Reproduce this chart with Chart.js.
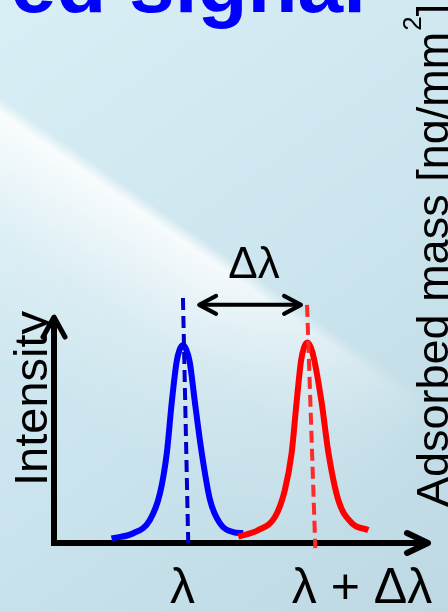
<!DOCTYPE html>
<html><head><meta charset="utf-8">
<script src="https://cdn.jsdelivr.net/npm/chart.js@4/dist/chart.umd.min.js"></script>
<style>html,body{margin:0;padding:0;overflow:hidden;background:#cfe6ee}canvas{display:block}</style>
</head><body>
<canvas id="c" width="448" height="612" style="width:448px;height:612px"></canvas>
<script>
// ---- data (wavelength in arbitrary units 0..100, intensity 0..100) ----
const blueX = [15.3, 21.1, 25.5, 28.2, 30.0, 31.3, 32.6, 33.4, 34.3, 35.2, 36.1, 37.5, 39.3, 41.5, 44.1, 47.6, 50.3];
const blueY = [1.9, 4.0, 9.5, 20.6, 37.0, 57.6, 74.5, 79.5, 81.5, 79.5, 74.5, 57.6, 37.0, 17.7, 8.2, 4.5, 4.1];
const redX = [49.0, 54.3, 58.8, 61.4, 63.2, 64.5, 65.7, 66.5, 67.4, 68.3, 69.2, 71.2, 73.0, 75.6, 79.2, 83.6];
const redY = [2.6, 5.3, 10.8, 21.8, 37.0, 57.6, 75.0, 80.5, 82.5, 80.5, 75.5, 57.6, 37.0, 17.7, 8.2, 5.3];
const blueMarkerX = [34.3, 35.7];
const blueMarkerY = [100.8, 0];
const redMarkerX = [67.3, 69.5];
const redMarkerY = [98.0, -2.1];
const shiftArrowX = [38.6, 65.7];
const shiftArrowY = [98.0, 98.0];
const shiftLabelPos = [53.2, 109];
const shiftLabel = 'Δλ';
const tickPositions = [34.2, 81.9];
const tickLabels = ['λ', 'λ + Δλ'];
const xAxisRange = [0, 100];
const yAxisRange = [0, 93.8];
const yTitle = 'Intensity';
const rightTitle = ['Adsorbed mass [ng/mm', '2', ']'];
const pageTitle = 'ed signal';

const pts = (xs, ys) => xs.map((x, i) => ({x, y: ys[i]}));

const bgPlugin = {
  id: 'bg',
  beforeDraw(chart) {
    const ctx = chart.ctx, W = chart.width, H = chart.height;
    ctx.save();
    let g = ctx.createLinearGradient(0, 0, W, H);
    g.addColorStop(0, '#d9eff6');
    g.addColorStop(0.5, '#cce5ee');
    g.addColorStop(1, '#bed9e4');
    ctx.fillStyle = g;
    ctx.fillRect(0, 0, W, H);
    // diagonal bright streak (offscreen, faded along its length)
    const off = document.createElement('canvas');
    off.width = W; off.height = H;
    const o = off.getContext('2d');
    const P0 = [200, 249], n = [-0.574, 0.819];
    const s = [P0[0] - n[0]*10, P0[1] - n[1]*10];
    const e = [P0[0] + n[0]*210, P0[1] + n[1]*210];
    g = o.createLinearGradient(s[0], s[1], e[0], e[1]);
    g.addColorStop(0, 'rgba(255,255,255,0)');
    g.addColorStop(0.06, 'rgba(255,255,255,0.85)');
    g.addColorStop(0.22, 'rgba(255,255,255,0.62)');
    g.addColorStop(0.5, 'rgba(255,255,255,0.25)');
    g.addColorStop(1, 'rgba(255,255,255,0)');
    o.fillStyle = g;
    o.fillRect(0, 0, W, H);
    o.globalCompositeOperation = 'destination-in';
    const m = o.createLinearGradient(0, 120, 430, 420);
    m.addColorStop(0, 'rgba(0,0,0,1)');
    m.addColorStop(0.5, 'rgba(0,0,0,0.95)');
    m.addColorStop(0.78, 'rgba(0,0,0,0.45)');
    m.addColorStop(1, 'rgba(0,0,0,0)');
    o.fillStyle = m;
    o.fillRect(0, 0, W, H);
    ctx.drawImage(off, 0, 0);
    ctx.restore();
  }
};

function chevron(ctx, tx, ty, dx, dy, back, half) {
  const px = -dy, py = dx;
  ctx.beginPath();
  ctx.moveTo(tx - dx*back + px*half, ty - dy*back + py*half);
  ctx.lineTo(tx, ty);
  ctx.lineTo(tx - dx*back - px*half, ty - dy*back - py*half);
  ctx.stroke();
}

const axesPlugin = {
  id: 'axes',
  beforeDatasetsDraw(chart) {
    const ctx = chart.ctx, xs = chart.scales.x, ys = chart.scales.y;
    ctx.save();
    ctx.strokeStyle = '#000';
    ctx.lineJoin = 'round';
    ctx.lineCap = 'butt';
    const x0 = xs.getPixelForValue(xAxisRange[0]);
    const x1 = xs.getPixelForValue(xAxisRange[1]);
    const y0 = ys.getPixelForValue(yAxisRange[0]);
    const y1 = ys.getPixelForValue(yAxisRange[1]);
    ctx.lineWidth = 6;
    ctx.beginPath(); ctx.moveTo(x0 - 3, y0); ctx.lineTo(x1 - 2, y0); ctx.stroke();
    ctx.beginPath(); ctx.moveTo(x0, y0 + 3); ctx.lineTo(x0, y1 + 2); ctx.stroke();
    ctx.lineCap = 'round';
    chevron(ctx, x1 - 2, y0, 1, 0, 21, 10);
    ctx.lineWidth = 5;
    chevron(ctx, x0, y1 + 2, 0, -1, 20, 11);
    ctx.restore();
  },
  afterDatasetsDraw(chart) {
    const ctx = chart.ctx, xs = chart.scales.x, ys = chart.scales.y;
    ctx.save();
    ctx.strokeStyle = '#000';
    ctx.lineWidth = 4;
    ctx.lineCap = 'round';
    ctx.lineJoin = 'round';
    const ax0 = xs.getPixelForValue(shiftArrowX[0]), ax1 = xs.getPixelForValue(shiftArrowX[1]);
    const ay = ys.getPixelForValue(shiftArrowY[0]);
    ctx.beginPath(); ctx.moveTo(ax0 + 2, ay); ctx.lineTo(ax1 - 2, ay); ctx.stroke();
    chevron(ctx, ax0, ay, -1, 0, 17, 9);
    chevron(ctx, ax1, ay, 1, 0, 17, 9);
    ctx.fillStyle = '#000';
    ctx.textAlign = 'center';
    ctx.textBaseline = 'alphabetic';
    ctx.font = '44px "Liberation Sans", Arial, sans-serif';
    ctx.fillText(shiftLabel, xs.getPixelForValue(shiftLabelPos[0]), ys.getPixelForValue(shiftLabelPos[1]));
    ctx.font = '50px "Liberation Sans", Arial, sans-serif';
    tickPositions.forEach((v, i) => ctx.fillText(tickLabels[i], xs.getPixelForValue(v), 603));
    // y title
    ctx.save();
    ctx.translate(47, 486);
    ctx.rotate(-Math.PI / 2);
    ctx.textAlign = 'left';
    ctx.font = '47px "Liberation Sans", Arial, sans-serif';
    ctx.fillText(yTitle, 0, 0);
    ctx.restore();
    // right title
    ctx.save();
    ctx.translate(448, 507);
    ctx.rotate(-Math.PI / 2);
    ctx.textAlign = 'left';
    ctx.font = '45px "Liberation Sans", Arial, sans-serif';
    ctx.fillText(rightTitle[0], 0, 0);
    let w = ctx.measureText(rightTitle[0]).width;
    ctx.font = '26px "Liberation Sans", Arial, sans-serif';
    ctx.fillText(rightTitle[1], w + 1, -27);
    w += ctx.measureText(rightTitle[1]).width + 1;
    ctx.font = '45px "Liberation Sans", Arial, sans-serif';
    ctx.fillText(rightTitle[2], w, 0);
    ctx.restore();
    // page title (cut off at top)
    ctx.fillStyle = '#0000ff';
    ctx.textAlign = 'right';
    ctx.font = 'bold 82px "Liberation Sans", Arial, sans-serif';
    ctx.fillText(pageTitle, 366, 12);
    ctx.restore();
  }
};

new Chart(document.getElementById('c'), {
  type: 'line',
  data: {
    datasets: [
      {data: pts(blueMarkerX, blueMarkerY), borderColor: '#0000cc', borderWidth: 4, borderDash: [12, 6], tension: 0, order: 0, clip: false, borderCapStyle: 'butt'},
      {data: pts(redMarkerX, redMarkerY), borderColor: '#ff2a2a', borderWidth: 4, borderDash: [12, 6], tension: 0, order: 0, clip: false, borderCapStyle: 'butt'},
      {data: pts(redX, redY), borderColor: '#ff0000', borderWidth: 6, cubicInterpolationMode: 'monotone', order: 1, clip: false, borderCapStyle: 'butt'},
      {data: pts(blueX, blueY), borderColor: '#0000ff', borderWidth: 6, cubicInterpolationMode: 'monotone', order: 2, clip: false, borderCapStyle: 'butt'}
    ]
  },
  options: {
    responsive: false,
    animation: false,
    devicePixelRatio: 1,
    layout: {padding: {left: 54, right: 18, top: 300, bottom: 69}},
    scales: {
      x: {type: 'linear', min: 0, max: 100, display: false},
      y: {type: 'linear', min: 0, max: 100, display: false}
    },
    elements: {point: {radius: 0, hoverRadius: 0}},
    plugins: {legend: {display: false}, tooltip: {enabled: false}},
    events: []
  },
  plugins: [bgPlugin, axesPlugin]
});
</script>
</body></html>
